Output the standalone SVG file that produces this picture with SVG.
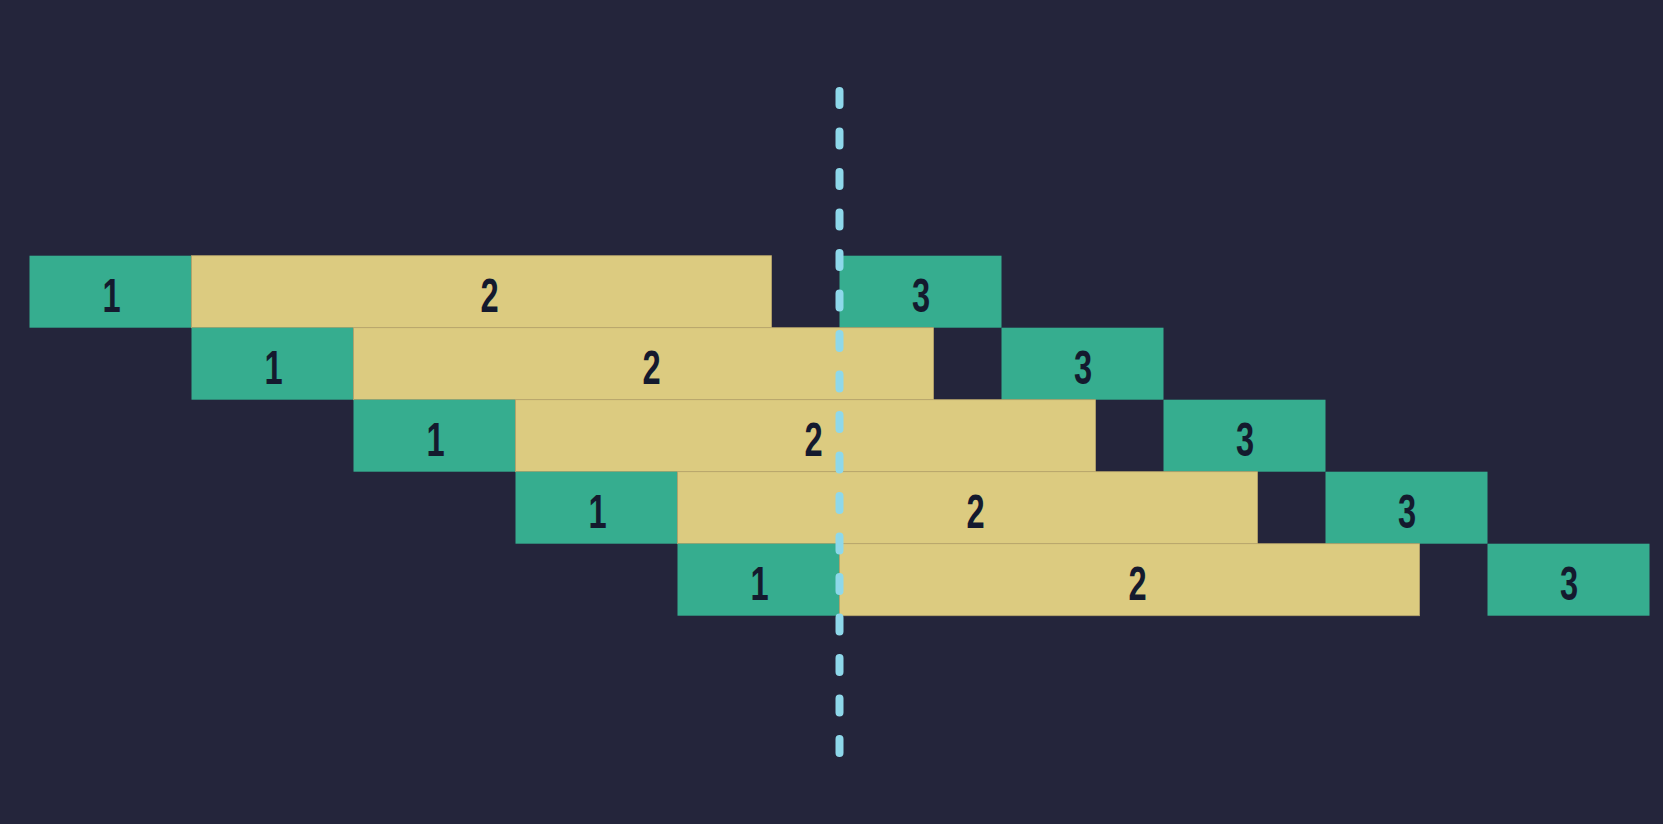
<svg xmlns="http://www.w3.org/2000/svg" width="1663" height="824" viewBox="0 0 1663 824">
<style>
.g{fill:#36ad8f}
.y{fill:#dccb80;stroke:#b8a66c;stroke-width:0.8}
.t{font-family:"Liberation Sans",Arial,sans-serif;font-weight:bold;font-size:48px;fill:#141a2e;text-anchor:middle}
</style>
<rect width="1663" height="824" fill="#24253b"/>
<g id="row1">
<rect class="g" x="29.5" y="255.7" width="162" height="72"/>
<rect class="y" x="191.5" y="255.7" width="580" height="72"/>
<rect class="g" x="839.5" y="255.7" width="162" height="72"/>
<text class="t" transform="translate(111.5,311.5) scale(0.68,1)">1</text>
<text class="t" transform="translate(489.5,311.5) scale(0.68,1)">2</text>
<text class="t" transform="translate(921,311.5) scale(0.68,1)">3</text>
</g>
<g id="row2">
<rect class="g" x="191.5" y="327.7" width="162" height="72"/>
<rect class="y" x="353.5" y="327.7" width="580" height="72"/>
<rect class="g" x="1001.5" y="327.7" width="162" height="72"/>
<text class="t" transform="translate(273.5,383.5) scale(0.68,1)">1</text>
<text class="t" transform="translate(651.5,383.5) scale(0.68,1)">2</text>
<text class="t" transform="translate(1083,383.5) scale(0.68,1)">3</text>
</g>
<g id="row3">
<rect class="g" x="353.5" y="399.7" width="162" height="72"/>
<rect class="y" x="515.5" y="399.7" width="580" height="72"/>
<rect class="g" x="1163.5" y="399.7" width="162" height="72"/>
<text class="t" transform="translate(435.5,455.5) scale(0.68,1)">1</text>
<text class="t" transform="translate(813.5,455.5) scale(0.68,1)">2</text>
<text class="t" transform="translate(1245,455.5) scale(0.68,1)">3</text>
</g>
<g id="row4">
<rect class="g" x="515.5" y="471.7" width="162" height="72"/>
<rect class="y" x="677.5" y="471.7" width="580" height="72"/>
<rect class="g" x="1325.5" y="471.7" width="162" height="72"/>
<text class="t" transform="translate(597.5,527.5) scale(0.68,1)">1</text>
<text class="t" transform="translate(975.5,527.5) scale(0.68,1)">2</text>
<text class="t" transform="translate(1407,527.5) scale(0.68,1)">3</text>
</g>
<g id="row5">
<rect class="g" x="677.5" y="543.7" width="162" height="72"/>
<rect class="y" x="839.5" y="543.7" width="580" height="72"/>
<rect class="g" x="1487.5" y="543.7" width="162" height="72"/>
<text class="t" transform="translate(759.5,599.5) scale(0.68,1)">1</text>
<text class="t" transform="translate(1137.5,599.5) scale(0.68,1)">2</text>
<text class="t" transform="translate(1569,599.5) scale(0.68,1)">3</text>
</g>
<g id="connectors">
<line x1="839.5" y1="91" x2="839.5" y2="760" stroke="#8ed8ea" stroke-width="8" stroke-linecap="round" stroke-dasharray="14 26.5"/>
</g>
</svg>
